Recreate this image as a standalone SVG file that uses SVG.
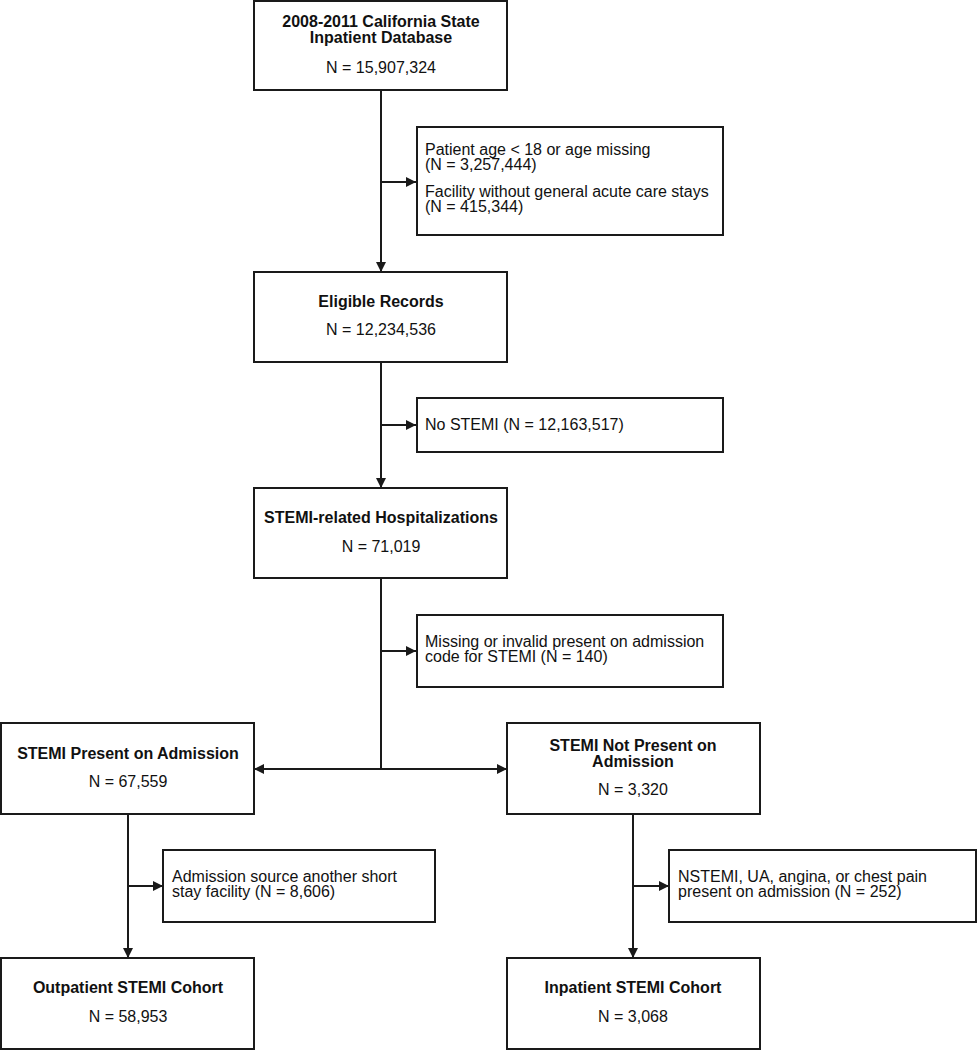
<svg xmlns="http://www.w3.org/2000/svg" width="978" height="1050" viewBox="0 0 978 1050">
<style>
rect{fill:#fff;stroke:#1a1a1a;stroke-width:2}
text{font-family:"Liberation Sans",Arial,sans-serif;font-size:16px;fill:#111}
.b{font-weight:bold;text-anchor:middle}
.c{text-anchor:middle}
.e line{stroke:#1a1a1a;stroke-width:2}
</style>
<defs>
<marker id="ah" viewBox="0 0 10 10" refX="10" refY="5" markerWidth="10" markerHeight="10" markerUnits="userSpaceOnUse" orient="auto">
<path d="M0,0 L10,5 L0,10 Z" fill="#1a1a1a"/>
</marker>
</defs>
<rect width="978" height="1050" style="fill:#fff;stroke:none"/>
<g id="connectors" class="e">
<line x1="381" y1="90" x2="381" y2="272" marker-end="url(#ah)"/>
<line x1="381" y1="182" x2="416" y2="182" marker-end="url(#ah)"/>
<line x1="381" y1="362" x2="381" y2="488" marker-end="url(#ah)"/>
<line x1="381" y1="425" x2="416" y2="425" marker-end="url(#ah)"/>
<line x1="381" y1="578" x2="381" y2="769"/>
<line x1="381" y1="651" x2="416" y2="651" marker-end="url(#ah)"/>
<line x1="381" y1="769" x2="254" y2="769" marker-end="url(#ah)"/>
<line x1="381" y1="769" x2="507" y2="769" marker-end="url(#ah)"/>
<line x1="128" y1="814" x2="128" y2="958" marker-end="url(#ah)"/>
<line x1="128" y1="886" x2="163" y2="886" marker-end="url(#ah)"/>
<line x1="633" y1="814" x2="633" y2="958" marker-end="url(#ah)"/>
<line x1="633" y1="886" x2="669" y2="886" marker-end="url(#ah)"/>
</g>
<g id="n1"><rect x="254" y="1" width="253" height="89"/>
<text class="b" x="381" y="27">2008-2011 California State</text>
<text class="b" x="381" y="43">Inpatient Database</text>
<text class="c" x="381" y="73">N = 15,907,324</text></g>
<g id="x1"><rect x="417" y="127" width="306" height="108"/>
<text x="425" y="155">Patient age &lt; 18 or age missing</text>
<text x="425" y="170">(N = 3,257,444)</text>
<text x="425" y="197">Facility without general acute care stays</text>
<text x="425" y="212">(N = 415,344)</text></g>
<g id="n2"><rect x="254" y="272" width="253" height="90"/>
<text class="b" x="381" y="307">Eligible Records</text>
<text class="c" x="381" y="335">N = 12,234,536</text></g>
<g id="x2"><rect x="417" y="398" width="306" height="54"/>
<text x="425" y="430">No STEMI (N = 12,163,517)</text></g>
<g id="n3"><rect x="254" y="488" width="253" height="90"/>
<text class="b" x="381" y="523">STEMI-related Hospitalizations</text>
<text class="c" x="381" y="552">N = 71,019</text></g>
<g id="x3"><rect x="417" y="615" width="306" height="72"/>
<text x="425" y="647">Missing or invalid present on admission</text>
<text x="425" y="662">code for STEMI (N = 140)</text></g>
<g id="n4"><rect x="1" y="723" width="253" height="91"/>
<text class="b" x="128" y="759">STEMI Present on Admission</text>
<text class="c" x="128" y="787">N = 67,559</text></g>
<g id="n5"><rect x="507" y="723" width="253" height="91"/>
<text class="b" x="633" y="751">STEMI Not Present on</text>
<text class="b" x="633" y="767">Admission</text>
<text class="c" x="633" y="795">N = 3,320</text></g>
<g id="x4"><rect x="163" y="850" width="272" height="72"/>
<text x="172" y="882">Admission source another short</text>
<text x="172" y="897">stay facility (N = 8,606)</text></g>
<g id="x5"><rect x="669" y="850" width="307" height="72"/>
<text x="678" y="882">NSTEMI, UA, angina, or chest pain</text>
<text x="678" y="897">present on admission (N = 252)</text></g>
<g id="n6"><rect x="1" y="958" width="253" height="91"/>
<text class="b" x="128" y="993">Outpatient STEMI Cohort</text>
<text class="c" x="128" y="1022">N = 58,953</text></g>
<g id="n7"><rect x="507" y="958" width="253" height="91"/>
<text class="b" x="633" y="993">Inpatient STEMI Cohort</text>
<text class="c" x="633" y="1022">N = 3,068</text></g>
</svg>
